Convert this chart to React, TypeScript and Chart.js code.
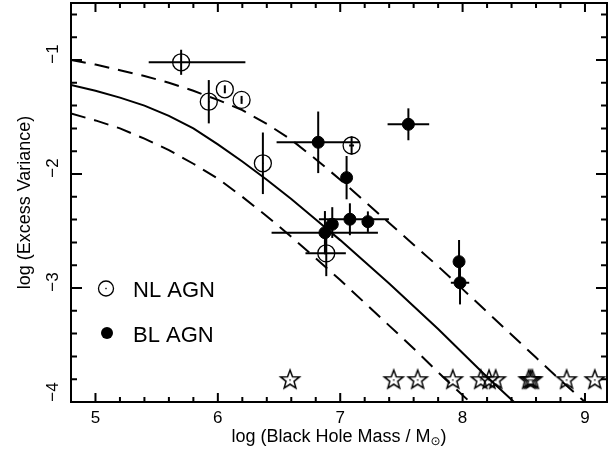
import React, { useEffect, useRef } from "react";
import { Chart, registerables } from "chart.js";

Chart.register(...registerables);

// Axis ranges and tick labels
const X_MIN = 4.8;
const X_MAX = 9.18;
const Y_MIN = -4;
const Y_MAX = -0.5;
const xTickLabels = [5, 6, 7, 8, 9];
const yTickLabels = [-1, -2, -3, -4];

// NL AGN (open circles)
const nlX = [5.70, 5.926, 6.057, 6.194, 6.368, 7.093, 6.886];
const nlY = [-1.02, -1.366, -1.257, -1.35, -1.906, -1.75, -2.696];
const nlXErrLo = [0.265, 0, 0, 0, 0, 0.02, 0.17];
const nlXErrHi = [0.525, 0, 0, 0, 0, 0.02, 0.16];
const nlYErrLo = [0.11, 0.19, 0.035, 0.035, 0.27, 0.08, 0.2];
const nlYErrHi = [0.11, 0.19, 0.035, 0.035, 0.27, 0.08, 0.27];

// BL AGN (filled circles)
const blX = [6.82, 7.557, 7.052, 7.079, 7.226, 6.935, 6.875, 7.971, 7.979];
const blY = [-1.722, -1.564, -2.032, -2.397, -2.418, -2.441, -2.515, -2.769, -2.954];
const blXErrLo = [0.34, 0.17, 0, 0.253, 0.04, 0, 0.436, 0, 0.075];
const blXErrHi = [0.34, 0.17, 0, 0.319, 0.04, 0, 0.433, 0, 0.075];
const blYErrLo = [0.27, 0.14, 0.19, 0.14, 0.09, 0.12, 0.19, 0.19, 0.19];
const blYErrHi = [0.27, 0.14, 0.19, 0.14, 0.09, 0.15, 0.19, 0.19, 0.19];

// Upper limits / non-detections (stars)
const starX = [6.59, 7.437, 7.633, 7.92, 8.148, 8.216, 8.27, 8.54, 8.555, 8.57, 8.85, 9.08];
const starY = [-3.8, -3.8, -3.8, -3.8, -3.8, -3.8, -3.8, -3.8, -3.8, -3.8, -3.8, -3.8];

// Model curve (solid) and its bounds (dashed)
const modelX = [4.8, 5.0, 5.2, 5.4, 5.6, 5.8, 6.0, 6.2, 6.4, 6.6, 6.8, 7.0, 7.2, 7.4, 7.6, 7.8, 8.0, 8.2, 8.42];
const modelY = [-1.22, -1.27, -1.33, -1.40, -1.49, -1.60, -1.74, -1.89, -2.05, -2.22, -2.40, -2.58, -2.77, -2.96, -3.16, -3.36, -3.57, -3.78, -4.0];
const upperX = [4.8, 5.0, 5.2, 5.4, 5.6, 5.8, 6.0, 6.2, 6.4, 6.6, 6.8, 7.0, 7.2, 7.4, 7.6, 7.8, 8.0, 8.2, 8.4, 8.6, 8.8, 9.0];
const upperY = [-1.0, -1.04, -1.09, -1.14, -1.20, -1.27, -1.35, -1.44, -1.56, -1.70, -1.87, -2.05, -2.24, -2.43, -2.62, -2.81, -3.01, -3.21, -3.41, -3.61, -3.81, -4.0];
const lowerX = [4.8, 5.0, 5.2, 5.4, 5.6, 5.8, 6.0, 6.2, 6.4, 6.6, 6.8, 7.0, 7.2, 7.4, 7.6, 7.8, 8.06];
const lowerY = [-1.47, -1.53, -1.60, -1.69, -1.79, -1.91, -2.04, -2.20, -2.37, -2.55, -2.74, -2.93, -3.13, -3.33, -3.53, -3.74, -4.0];

const xTitle = "log (Black Hole Mass / M";
const xTitleSub = "\u2299";
const yTitle = "log (Excess Variance)";
const nlLabel = "NL AGN";
const blLabel = "BL AGN";

const FONT = "'Liberation Sans', Arial, Helvetica, sans-serif";

const pts = (xs: number[], ys: number[]) => xs.map((x, i) => ({ x, y: ys[i] }));

function makeStar(r: number): HTMLCanvasElement {
  const c = document.createElement("canvas");
  const s = Math.ceil(r * 2 + 4);
  c.width = s;
  c.height = s;
  const g = c.getContext("2d")!;
  g.translate(s / 2, s / 2 + 0.8);
  g.beginPath();
  for (let i = 0; i < 10; i++) {
    const rad = i % 2 ? r * 0.42 : r;
    const a = -Math.PI / 2 + (i * Math.PI) / 5;
    g.lineTo(rad * Math.cos(a), rad * Math.sin(a));
  }
  g.closePath();
  g.lineWidth = 1.5;
  g.strokeStyle = "#000";
  g.stroke();
  g.fillStyle = "#000";
  g.fillRect(-0.7, -0.7, 1.4, 1.4);
  return c;
}

function minusText(v: number): string {
  return String(v).replace("-", "\u2212");
}

const errorBarPlugin = {
  id: "errorBars",
  afterDatasetsDraw(chart: any) {
    const { ctx } = chart;
    const xs = chart.scales.x;
    const ys = chart.scales.y;
    ctx.save();
    ctx.strokeStyle = "#000";
    ctx.lineWidth = 2;
    const drawSet = (X: number[], Y: number[], xl: number[], xh: number[], yl: number[], yh: number[]) => {
      for (let i = 0; i < X.length; i++) {
        const px = xs.getPixelForValue(X[i]);
        const py = ys.getPixelForValue(Y[i]);
        if (xl[i] || xh[i]) {
          ctx.beginPath();
          ctx.moveTo(xs.getPixelForValue(X[i] - xl[i]), py);
          ctx.lineTo(xs.getPixelForValue(X[i] + xh[i]), py);
          ctx.stroke();
        }
        if (yl[i] || yh[i]) {
          ctx.beginPath();
          ctx.moveTo(px, ys.getPixelForValue(Y[i] - yl[i]));
          ctx.lineTo(px, ys.getPixelForValue(Y[i] + yh[i]));
          ctx.stroke();
        }
      }
    };
    drawSet(nlX, nlY, nlXErrLo, nlXErrHi, nlYErrLo, nlYErrHi);
    drawSet(blX, blY, blXErrLo, blXErrHi, blYErrLo, blYErrHi);
    // centre dots of NL circles
    ctx.fillStyle = "#000";
    for (let i = 0; i < nlX.length; i++) {
      const px = xs.getPixelForValue(nlX[i]);
      const py = ys.getPixelForValue(nlY[i]);
      ctx.fillRect(px - 0.7, py - 0.7, 1.4, 1.4);
    }
    ctx.restore();
  },
};

const framePlugin = {
  id: "frame",
  afterDraw(chart: any) {
    const { ctx, chartArea } = chart;
    const { left, right, top, bottom } = chartArea;
    const xs = chart.scales.x;
    const ys = chart.scales.y;
    ctx.save();
    ctx.strokeStyle = "#000";
    ctx.lineWidth = 2;
    ctx.strokeRect(left, top, right - left, bottom - top);
    // x ticks (inward, top and bottom)
    for (let k = Math.ceil(X_MIN * 5); k <= Math.floor(X_MAX * 5); k++) {
      const v = k / 5;
      const px = xs.getPixelForValue(v);
      const len = k % 5 === 0 ? 9 : 5;
      ctx.beginPath();
      ctx.moveTo(px, bottom);
      ctx.lineTo(px, bottom - len);
      ctx.moveTo(px, top);
      ctx.lineTo(px, top + len);
      ctx.stroke();
    }
    // y ticks (inward, left and right)
    for (let k = Math.ceil(Y_MIN * 5); k <= Math.floor(Y_MAX * 5); k++) {
      const v = k / 5;
      const py = ys.getPixelForValue(v);
      const len = k % 5 === 0 ? 11 : 6;
      ctx.beginPath();
      ctx.moveTo(left, py);
      ctx.lineTo(left + len, py);
      ctx.moveTo(right, py);
      ctx.lineTo(right - len, py);
      ctx.stroke();
    }
    ctx.fillStyle = "#000";
    ctx.font = `17px ${FONT}`;
    ctx.textAlign = "center";
    ctx.textBaseline = "middle";
    for (const v of xTickLabels) {
      ctx.fillText(String(v), xs.getPixelForValue(v), bottom + 16);
    }
    for (const v of yTickLabels) {
      const py = ys.getPixelForValue(v);
      ctx.save();
      ctx.translate(53, Math.min(py - 6, bottom - 10));
      ctx.rotate(-Math.PI / 2);
      ctx.fillText(minusText(v), 0, 0);
      ctx.restore();
    }
    // x title with subscript sun symbol
    const cx = (left + right) / 2;
    const ty = 437;
    const TF = `18px ${FONT}`;
    const SF = `12px 'DejaVu Sans', ${FONT}`;
    ctx.font = TF;
    const w1 = ctx.measureText(xTitle).width;
    ctx.font = SF;
    const w2 = ctx.measureText(xTitleSub).width;
    ctx.font = TF;
    const w3 = ctx.measureText(")").width;
    let sx = cx - (w1 + w2 + w3) / 2;
    ctx.textAlign = "left";
    ctx.fillText(xTitle, sx, ty);
    sx += w1;
    ctx.font = SF;
    ctx.fillText(xTitleSub, sx, ty + 5);
    sx += w2;
    ctx.font = TF;
    ctx.fillText(")", sx, ty);
    // y title
    ctx.save();
    ctx.translate(25, (top + bottom) / 2);
    ctx.rotate(-Math.PI / 2);
    ctx.textAlign = "center";
    ctx.fillText(yTitle, 0, 0);
    ctx.restore();
    // legend
    ctx.lineWidth = 1.3;
    ctx.beginPath();
    ctx.arc(106, 288.5, 7.5, 0, Math.PI * 2);
    ctx.stroke();
    ctx.fillRect(105.3, 287.8, 1.4, 1.4);
    ctx.beginPath();
    ctx.arc(107, 333, 6, 0, Math.PI * 2);
    ctx.fill();
    ctx.font = `22px ${FONT}`;
    ctx.textAlign = "left";
    ctx.textBaseline = "alphabetic";
    ctx.fillText(nlLabel, 133, 296.5);
    ctx.fillText(blLabel, 133, 341.5);
    ctx.restore();
  },
};

export default function App() {
  const ref = useRef<HTMLCanvasElement | null>(null);
  useEffect(() => {
    document.body.style.margin = "0";
    if (!ref.current) return;
    const star = makeStar(10);
    const chart = new Chart(ref.current, {
      type: "scatter",
      data: {
        datasets: [
          {
            label: "model",
            data: pts(modelX, modelY),
            showLine: true,
            borderColor: "#000",
            borderWidth: 2,
            pointRadius: 0,
            fill: false,
          },
          {
            label: "upper",
            data: pts(upperX, upperY),
            showLine: true,
            borderColor: "#000",
            borderWidth: 2,
            borderDash: [15, 9],
            pointRadius: 0,
            fill: false,
          },
          {
            label: "lower",
            data: pts(lowerX, lowerY),
            showLine: true,
            borderColor: "#000",
            borderWidth: 2,
            borderDash: [15, 9],
            pointRadius: 0,
            fill: false,
          },
          {
            label: nlLabel,
            data: pts(nlX, nlY),
            pointStyle: "circle",
            pointRadius: 8.5,
            borderColor: "#000",
            backgroundColor: "rgba(0,0,0,0)",
            borderWidth: 1.3,
          },
          {
            label: blLabel,
            data: pts(blX, blY),
            pointStyle: "circle",
            pointRadius: 6,
            borderColor: "#000",
            backgroundColor: "#000",
            borderWidth: 1,
          },
          {
            label: "limits",
            data: pts(starX, starY),
            pointStyle: star as any,
            pointRadius: 10,
          },
        ],
      },
      options: {
        animation: false,
        responsive: false,
        events: [],
        layout: { autoPadding: false, padding: { left: 71, right: 8, top: 3, bottom: 50 } },
        scales: {
          x: { type: "linear", min: X_MIN, max: X_MAX, display: false },
          y: { type: "linear", min: Y_MIN, max: Y_MAX, display: false },
        },
        plugins: {
          legend: { display: false },
          tooltip: { enabled: false },
        },
      },
      plugins: [errorBarPlugin, framePlugin],
    });
    return () => chart.destroy();
  }, []);
  return (
    <div style={{ width: 615, height: 452, position: "relative" }}>
      <canvas ref={ref} width={615} height={452} />
    </div>
  );
}
